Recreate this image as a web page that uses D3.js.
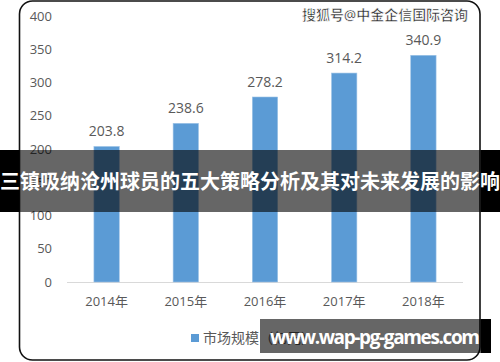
<!DOCTYPE html>
<html>
<head>
<meta charset="utf-8">
<script src="https://cdn.jsdelivr.net/npm/d3@7"></script>
<style>
  body { margin: 0; background: #fff; }
  svg { display: block; font-family: "Open Sans", "Noto Sans CJK SC", sans-serif; }
</style>
</head>
<body>
<script>
// chart size
var width = 500;
var height = 362;

var years = ["2014年", "2015年", "2016年", "2017年", "2018年"];
var marketSize = [203.8, 238.6, 278.2, 314.2, 340.9];
var yTicks = [0, 50, 100, 150, 200, 250, 300, 350, 400];
var seriesName = "市场规模（亿元）";
var titleText = "三镇吸纳沧州球员的五大策略分析及其对未来发展的影响";
var sourceText = "搜狐号@中金企信国际咨询";
var siteText = "www.wap-pg-games.com";

var svg = d3.select("body")
    .append("svg")
    .attr("width", width)
    .attr("height", height);

// rounded frame of the picture
var frame = { x: 19.5, y: 1, w: 460.5, h: 359 };
svg.append("rect")
    .attr("x", frame.x)
    .attr("y", frame.y)
    .attr("width", frame.w)
    .attr("height", frame.h)
    .attr("rx", 13)
    .attr("fill", "#fff")
    .attr("stroke", "#111")
    .attr("stroke-width", 1.6);

var x = d3.scaleBand()
    .domain(years)
    .range([67, 463])
    .paddingInner(0.68)
    .paddingOuter(0.34);

var y = d3.scaleLinear()
    .domain([0, 400])
    .range([282, 16]);

var g = svg.append("g");

// y tick labels (no axis line)
g.selectAll(".ylab")
    .data(yTicks)
    .enter()
    .append("text")
    .attr("class", "ylab")
    .attr("x", 52)
    .attr("y", function(d) { return y(d); })
    .attr("dy", "0.35em")
    .attr("text-anchor", "end")
    .attr("font-size", 13)
    .attr("fill", "#595959")
    .text(function(d) { return d; });

// baseline
g.append("line")
    .attr("x1", 67)
    .attr("x2", 463)
    .attr("y1", y(0) + 0.5)
    .attr("y2", y(0) + 0.5)
    .attr("stroke", "#d9d9d9")
    .attr("stroke-width", 1);

// bars
g.selectAll(".bar")
    .data(marketSize)
    .enter()
    .append("rect")
    .attr("class", "bar")
    .attr("x", function(d, i) { return x(years[i]); })
    .attr("width", x.bandwidth())
    .attr("y", function(d) { return y(d); })
    .attr("height", function(d) { return y(0) - y(d); })
    .attr("fill", "#5b9bd5")
    .attr("stroke", "#9dc3e6")
    .attr("stroke-width", 0.6);

// value labels
g.selectAll(".val")
    .data(marketSize)
    .enter()
    .append("text")
    .attr("class", "val")
    .attr("x", function(d, i) { return x(years[i]) + x.bandwidth() / 2; })
    .attr("y", function(d) { return y(d) - 10; })
    .attr("text-anchor", "middle")
    .attr("font-size", 14)
    .attr("fill", "#595959")
    .text(function(d) { return d.toFixed(1); });

// x labels
var xAxis = g.append("g")
    .attr("transform", "translate(0," + y(0) + ")")
    .call(d3.axisBottom(x).tickSize(0).tickPadding(15));
xAxis.select(".domain").remove();
xAxis.selectAll("text")
    .attr("font-size", 13)
    .attr("fill", "#595959")
    .attr("font-family", "'Open Sans', 'Noto Sans CJK SC', sans-serif");

// legend
g.append("rect")
    .attr("x", 191)
    .attr("y", 334)
    .attr("width", 8)
    .attr("height", 8)
    .attr("fill", "#5b9bd5");
g.append("text")
    .attr("x", 203)
    .attr("y", 338)
    .attr("dy", "0.35em")
    .attr("font-size", 14)
    .attr("fill", "#595959")
    .text(seriesName);

// source watermark
svg.append("text")
    .attr("x", 302)
    .attr("y", 15)
    .attr("dy", "0.35em")
    .attr("font-size", 14)
    .attr("font-weight", "bold")
    .attr("fill", "#2a2a2a")
    .attr("stroke", "#fff")
    .attr("stroke-width", 0.6)
    .attr("textLength", 166)
    .text(sourceText);

// title banner
svg.append("rect")
    .attr("x", 0).attr("y", 150)
    .attr("width", frame.x).attr("height", 62)
    .attr("fill", "#000");
svg.append("rect")
    .attr("x", 480.5).attr("y", 150)
    .attr("width", width - 480.5).attr("height", 62)
    .attr("fill", "#000");
svg.append("rect")
    .attr("x", frame.x).attr("y", 150)
    .attr("width", 480.5 - frame.x).attr("height", 62)
    .attr("fill", "#000")
    .attr("fill-opacity", 0.6);
svg.append("text")
    .attr("x", width / 2)
    .attr("y", 182)
    .attr("dy", "0.35em")
    .attr("text-anchor", "middle")
    .attr("font-size", 20)
    .attr("font-weight", "bold")
    .attr("fill", "#fff")
    .attr("font-family", "'Noto Sans CJK SC', sans-serif")
    .attr("textLength", 500)
    .text(titleText);

// site banner
svg.append("rect")
    .attr("x", 260).attr("y", 319)
    .attr("width", 480.5 - 260).attr("height", 34)
    .attr("fill", "#000")
    .attr("fill-opacity", 0.6);
svg.append("rect")
    .attr("x", 480.5).attr("y", 319)
    .attr("width", 491 - 480.5).attr("height", 34)
    .attr("fill", "#000");
svg.append("text")
    .attr("x", 270)
    .attr("y", 337)
    .attr("dy", "0.35em")
    .attr("font-size", 19)
    .attr("font-weight", "bold")
    .attr("fill", "#fff")
    .attr("textLength", 210)
    .text(siteText);
</script>
</body>
</html>
